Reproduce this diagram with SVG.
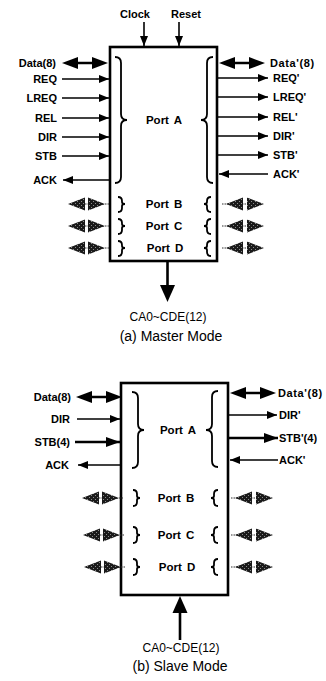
<svg xmlns="http://www.w3.org/2000/svg" width="326" height="681" viewBox="0 0 326 681">
<style>
text{font-family:"Liberation Sans",Arial,sans-serif;fill:#000}
.sig{font-size:11px;font-weight:bold}
.sigr{font-size:11px;font-weight:bold;letter-spacing:0.6px}
.port{font-size:11.5px;font-weight:bold;text-anchor:middle;word-spacing:2px}
.bus{font-size:12px;text-anchor:middle}
.cap{font-size:14px;text-anchor:middle}
.box{fill:#fff;stroke:#000;stroke-width:2.6}
.ln{stroke:#000;stroke-width:1.6;fill:none}
.thk{stroke:#000;stroke-width:2.6;fill:none}
.br{stroke:#000;stroke-width:1.8;fill:none}
.gl{stroke:#333;stroke-width:1.2;stroke-dasharray:1.5 1;fill:none}
.gh{fill:url(#stip)}
</style>
<defs>
<pattern id="stip" width="4" height="4" patternUnits="userSpaceOnUse">
<rect width="4" height="4" fill="#1a1a1a"/>
<rect x="1" y="1" width="1" height="1" fill="#8a8a8a"/>
<rect x="3" y="3" width="1" height="1" fill="#8a8a8a"/>
</pattern>
<marker id="ah" viewBox="0 0 10 8" refX="10" refY="4" markerWidth="10" markerHeight="8" markerUnits="userSpaceOnUse" orient="auto">
<path d="M0,0L10,4L0,8z" fill="#000"/>
</marker>
<marker id="ahb" viewBox="0 0 14 10" refX="14" refY="5" markerWidth="14" markerHeight="10" markerUnits="userSpaceOnUse" orient="auto">
<path d="M0,0L14,5L0,10z" fill="#000"/>
</marker>
<g id="dbl">
<path d="M0,0L16,-6L16,6z" fill="#000"/>
<line x1="14" y1="0" x2="32" y2="0" stroke="#000" stroke-width="2.5"/>
<path d="M46,0L30,-6L30,6z" fill="#000"/>
</g>
<g id="gray">
<line x1="2" y1="0" x2="42" y2="0" class="gl"/>
<path d="M0,0L17,-6.5L17,6.5z" class="gh"/>
<path d="M37,0L20,-6.5L20,6.5z" class="gh"/>
</g>
<g id="grayr">
<line x1="0" y1="0" x2="40" y2="0" class="gl"/>
<path d="M4,0L21,-6.5L21,6.5z" class="gh"/>
<path d="M42,0L25,-6.5L25,6.5z" class="gh"/>
</g>
</defs>

<!-- ===== (a) Master mode ===== -->
<g id="master-box">
<rect class="box" x="110" y="47" width="107" height="214"/>
<path class="br" d="M115,57 Q121,57 121,63 L121,114 Q121,120 127,120 Q121,120 121,126 L121,177 Q121,183 115,183"/>
<path class="br" d="M213,57 Q207,57 207,63 L207,114 Q207,120 201,120 Q207,120 207,126 L207,177 Q207,183 213,183"/>
<text class="port" x="164" y="124">Port A</text>
<path class="br" d="M118,197 Q122,197 122,201 L122,202 Q122,204 125,204 Q122,204 122,206 L122,208 Q122,212 118,212"/>
<path class="br" d="M118,219 Q122,219 122,223 L122,224 Q122,226 125,226 Q122,226 122,228 L122,230 Q122,234 118,234"/>
<path class="br" d="M118,241 Q122,241 122,245 L122,246 Q122,248 125,248 Q122,248 122,250 L122,252 Q122,256 118,256"/>
<path class="br" d="M211,197 Q207,197 207,201 L207,202 Q207,204 204,204 Q207,204 207,206 L207,208 Q207,212 211,212"/>
<path class="br" d="M211,219 Q207,219 207,223 L207,224 Q207,226 204,226 Q207,226 207,228 L207,230 Q207,234 211,234"/>
<path class="br" d="M211,241 Q207,241 207,245 L207,246 Q207,248 204,248 Q207,248 207,250 L207,252 Q207,256 211,256"/>
<text class="port" x="164" y="208">Port B</text>
<text class="port" x="164" y="230">Port C</text>
<text class="port" x="165" y="252">Port D</text>
</g>

<g id="master-labels">
<text class="sig" x="135" y="18" text-anchor="middle">Clock</text>
<text class="sig" x="186" y="18" text-anchor="middle">Reset</text>
<g text-anchor="end">
<text class="sig" x="56" y="67">Data(8)</text>
<text class="sig" x="57" y="83">REQ</text>
<text class="sig" x="57" y="102">LREQ</text>
<text class="sig" x="57" y="122">REL</text>
<text class="sig" x="57" y="141">DIR</text>
<text class="sig" x="57" y="160">STB</text>
<text class="sig" x="57" y="184">ACK</text>
</g>
<text class="sigr" x="270" y="67">Data'(8)</text>
<text class="sig" x="273" y="82">REQ'</text>
<text class="sig" x="273" y="101">LREQ'</text>
<text class="sig" x="273" y="121">REL'</text>
<text class="sig" x="273" y="140">DIR'</text>
<text class="sig" x="273" y="159">STB'</text>
<text class="sig" x="273" y="178">ACK'</text>
<text class="bus" x="168" y="321">CA0~CDE(12)</text>
<text class="cap" x="171" y="341">(a) Master Mode</text>
</g>

<g id="master-connectors">
<line class="ln" x1="144" y1="22" x2="144" y2="46" marker-end="url(#ah)"/>
<line class="ln" x1="179" y1="22" x2="179" y2="46" marker-end="url(#ah)"/>
<use href="#dbl" x="62" y="63"/>
<line class="ln" x1="62" y1="79" x2="109" y2="79" marker-end="url(#ah)"/>
<line class="ln" x1="62" y1="98" x2="109" y2="98" marker-end="url(#ah)"/>
<line class="ln" x1="62" y1="118" x2="109" y2="118" marker-end="url(#ah)"/>
<line class="ln" x1="62" y1="137" x2="109" y2="137" marker-end="url(#ah)"/>
<line class="ln" x1="62" y1="156" x2="109" y2="156" marker-end="url(#ah)"/>
<line class="ln" x1="109" y1="180" x2="63" y2="180" marker-end="url(#ah)"/>
<use href="#dbl" x="219" y="63"/>
<line class="ln" x1="218" y1="78" x2="268" y2="78" marker-end="url(#ah)"/>
<line class="ln" x1="218" y1="97" x2="268" y2="97" marker-end="url(#ah)"/>
<line class="ln" x1="218" y1="117" x2="268" y2="117" marker-end="url(#ah)"/>
<line class="ln" x1="218" y1="136" x2="268" y2="136" marker-end="url(#ah)"/>
<line class="ln" x1="218" y1="155" x2="268" y2="155" marker-end="url(#ah)"/>
<line class="ln" x1="268" y1="174" x2="219" y2="174" marker-end="url(#ah)"/>
<use href="#gray" x="68" y="204"/>
<use href="#gray" x="68" y="226"/>
<use href="#gray" x="68" y="248"/>
<use href="#grayr" x="222" y="204"/>
<use href="#grayr" x="222" y="226"/>
<use href="#grayr" x="222" y="248"/>
<line class="thk" x1="167.5" y1="262" x2="167.5" y2="288"/>
<path d="M160,285L175,285L167.5,302z" fill="#000"/>
</g>

<!-- ===== (b) Slave mode ===== -->
<g id="slave-box">
<rect class="box" x="121" y="383" width="107" height="212"/>
<path class="br" d="M132,392 Q138,392 138,398 L138,424 Q138,430 144,430 Q138,430 138,436 L138,462 Q138,468 132,468"/>
<path class="br" d="M218,391 Q212,391 212,397 L212,424 Q212,430 206,430 Q212,430 212,436 L212,461 Q212,467 218,467"/>
<text class="port" x="178" y="434">Port A</text>
<path class="br" d="M133,490 Q137,490 137,494 L137,496 Q137,498 140,498 Q137,498 137,500 L137,502 Q137,506 133,506"/>
<path class="br" d="M133,527 Q137,527 137,531 L137,533 Q137,535 140,535 Q137,535 137,537 L137,539 Q137,543 133,543"/>
<path class="br" d="M133,559 Q137,559 137,563 L137,565 Q137,567 140,567 Q137,567 137,569 L137,571 Q137,575 133,575"/>
<path class="br" d="M218,490 Q214,490 214,494 L214,496 Q214,498 211,498 Q214,498 214,500 L214,502 Q214,506 218,506"/>
<path class="br" d="M218,527 Q214,527 214,531 L214,533 Q214,535 211,535 Q214,535 214,537 L214,539 Q214,543 218,543"/>
<path class="br" d="M218,559 Q214,559 214,563 L214,565 Q214,567 211,567 Q214,567 214,569 L214,571 Q214,575 218,575"/>
<text class="port" x="176" y="502">Port B</text>
<text class="port" x="176" y="539">Port C</text>
<text class="port" x="177" y="571">Port D</text>
</g>

<g id="slave-labels">
<g text-anchor="end">
<text class="sig" x="71" y="401">Data(8)</text>
<text class="sig" x="70" y="423">DIR</text>
<text class="sig" x="70" y="446">STB(4)</text>
<text class="sig" x="69" y="469">ACK</text>
</g>
<text class="sigr" x="278" y="397">Data'(8)</text>
<text class="sig" x="279" y="419">DIR'</text>
<text class="sig" x="279" y="442">STB'(4)</text>
<text class="sig" x="279" y="464">ACK'</text>
<text class="bus" x="181" y="652">CA0~CDE(12)</text>
<text class="cap" x="180" y="671">(b) Slave Mode</text>
</g>

<g id="slave-connectors">
<use href="#dbl" x="76" y="397"/>
<line class="ln" x1="77" y1="419" x2="120" y2="419" marker-end="url(#ah)"/>
<line class="thk" x1="75" y1="442" x2="120" y2="442" marker-end="url(#ahb)"/>
<line class="ln" x1="120" y1="465" x2="78" y2="465" marker-end="url(#ah)"/>
<use href="#dbl" x="230" y="393"/>
<line class="ln" x1="229" y1="415" x2="277" y2="415" marker-end="url(#ah)"/>
<line class="thk" x1="229" y1="438" x2="278" y2="438" marker-end="url(#ahb)"/>
<line class="ln" x1="278" y1="460" x2="230" y2="460" marker-end="url(#ah)"/>
<use href="#gray" x="82" y="498"/>
<use href="#gray" x="83" y="535"/>
<use href="#gray" x="84" y="567"/>
<use href="#grayr" x="231" y="498"/>
<use href="#grayr" x="231" y="535"/>
<use href="#grayr" x="231" y="567"/>
<line class="thk" x1="180" y1="640" x2="180" y2="610"/>
<path d="M172.5,613L187.5,613L180,596z" fill="#000"/>
</g>
</svg>
